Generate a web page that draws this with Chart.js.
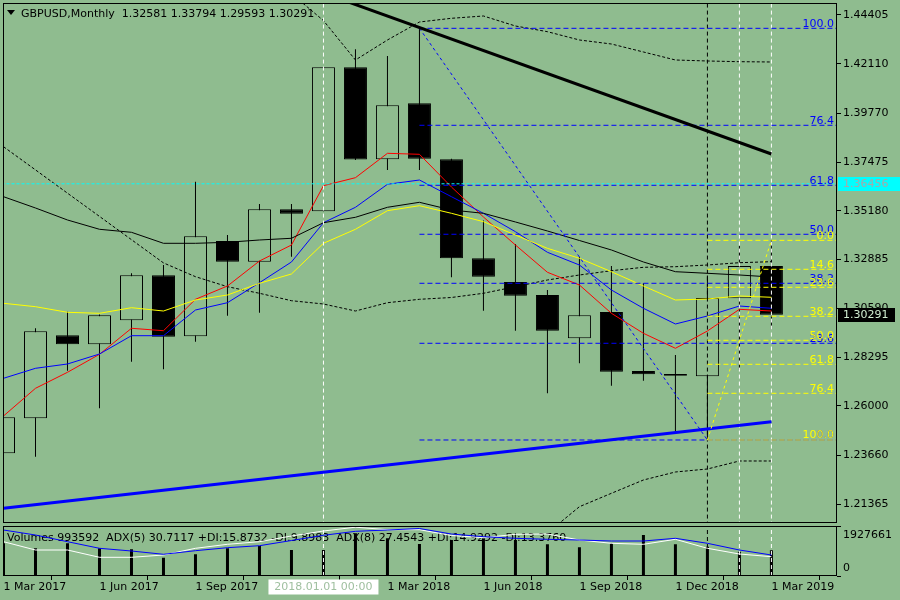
<!DOCTYPE html>
<html>
<head>
<meta charset="utf-8">
<title>GBPUSD, Monthly</title>
<script src="https://cdn.jsdelivr.net/npm/chart.js@4.4.0/dist/chart.umd.min.js"></script>
<style>
  html, body { margin: 0; padding: 0; background: #8fbc8f; }
  #wrap { position: relative; width: 900px; height: 600px; overflow: hidden; }
  canvas { position: absolute; left: 0; }
  #priceChart { top: 0; }
  #volChart { top: 524px; }
</style>
</head>
<body>
<div id="wrap">
  <canvas id="priceChart" width="900" height="524"></canvas>
  <canvas id="volChart" width="900" height="76"></canvas>
</div>
<script>
// Monthly bars, index 0 = Mar 2017 ... index 24 = Mar 2019
const opens  = [1.23765, 1.25414, 1.29322, 1.28898, 1.30028, 1.32147, 1.29275, 1.33762, 1.32788, 1.35255, 1.35161, 1.41942, 1.37610, 1.40247, 1.37610, 1.32953, 1.31832, 1.31220, 1.29181, 1.30419, 1.27641, 1.27500, 1.27391, 1.31064, 1.32581];
const highs  = [1.26120, 1.29652, 1.30433, 1.30300, 1.32241, 1.32632, 1.36555, 1.34045, 1.35505, 1.35505, 1.41942, 1.42790, 1.42474, 1.43778, 1.37640, 1.34730, 1.33621, 1.31455, 1.33023, 1.32585, 1.31771, 1.28394, 1.32140, 1.33541, 1.33794];
const lows   = [1.21190, 1.23605, 1.27655, 1.25884, 1.28079, 1.27721, 1.29020, 1.30245, 1.30386, 1.33023, 1.35161, 1.37577, 1.37106, 1.37106, 1.32053, 1.30480, 1.29538, 1.26591, 1.28004, 1.26949, 1.27184, 1.24783, 1.24392, 1.27688, 1.29593];
const closes = [1.25461, 1.29510, 1.28898, 1.30264, 1.32147, 1.29256, 1.33984, 1.32788, 1.35255, 1.35048, 1.41942, 1.37600, 1.40153, 1.37638, 1.32953, 1.32082, 1.31187, 1.29538, 1.30264, 1.27608, 1.27486, 1.27420, 1.31079, 1.32581, 1.30291];
const volumes = [1260700, 1067900, 1260700, 1067900, 1029400, 705500, 836600, 1067900, 1156600, 1002400, 1002400, 1646200, 1453400, 1233700, 1387900, 1453400, 1387900, 1222100, 1106500, 1260700, 1580700, 1222100, 1129600, 936800, 993592];

// moving averages and bands
const redMA    = [1.25522, 1.26826, 1.27580, 1.28427, 1.29652, 1.29538, 1.31017, 1.31644, 1.32821, 1.33574, 1.36367, 1.36744, 1.37892, 1.37845, 1.36306, 1.34893, 1.33574, 1.32289, 1.31691, 1.30358, 1.29416, 1.28710, 1.29524, 1.30546, 1.30466];
const blueMA   = [1.27297, 1.27768, 1.27971, 1.28441, 1.29303, 1.29303, 1.30513, 1.30857, 1.31799, 1.32774, 1.34624, 1.35350, 1.36433, 1.36635, 1.35849, 1.35067, 1.34201, 1.33231, 1.32632, 1.31455, 1.30594, 1.29854, 1.30231, 1.30701, 1.30594];
const yellowMA = [1.30829, 1.30669, 1.30405, 1.30358, 1.30622, 1.30466, 1.30984, 1.31220, 1.31771, 1.32209, 1.33654, 1.34314, 1.35190, 1.35425, 1.35067, 1.34672, 1.34045, 1.33418, 1.32948, 1.32317, 1.31644, 1.30984, 1.31032, 1.31173, 1.31112];
const blackMA  = [1.35849, 1.35317, 1.34752, 1.34314, 1.34172, 1.33654, 1.33654, 1.33701, 1.33810, 1.33890, 1.34624, 1.34879, 1.35350, 1.35585, 1.35222, 1.35067, 1.34658, 1.34234, 1.33786, 1.33339, 1.32774, 1.32317, 1.32241, 1.32162, 1.32067];
const envLine  = [1.38203, 1.37111, 1.36014, 1.34921, 1.33824, 1.32731, 1.32082, 1.31611, 1.31300, 1.30951, 1.30796, 1.30466, 1.30857, 1.31017, 1.31102, 1.31300, 1.31611, 1.31926, 1.32162, 1.32364, 1.32524, 1.32552, 1.32632, 1.32741, 1.32788];
const bandUpper = [null, null, null, null, null, null, null, null, null, 1.45413, 1.44141, 1.42286, 1.43228, 1.44075, 1.44250, 1.44358, 1.43887, 1.43619, 1.43228, 1.43039, 1.42663, 1.42286, 1.42239, 1.42206, 1.42192];
const bandLower = [null, null, null, null, null, null, null, null, null, null, null, null, null, null, null, null, 1.18741, 1.20012, 1.21251, 1.21882, 1.22508, 1.22885, 1.23026, 1.23403, 1.23403];

// ADX lines in the volume window
const adxWhite = [34.3, 26, 26, 18.7, 18.7, 21, 27.7, 31.7, 34.3, 40, 45, 48.8, 46.3, 46.3, 40.5, 38.3, 41.7, 42, 36, 32.7, 31.7, 36.7, 27.7, 22, 19.3];
const adxBlue  = [46, 41, 34.3, 27.7, 25, 21.7, 25.3, 28.3, 30.3, 35.5, 40.7, 44.7, 46, 47.5, 42, 39.3, 37.7, 36.7, 36, 35, 35, 37.7, 32.7, 26, 21];

// fibonacci objects
const blueFibStart = 13;
const blueFibLevels = ["100.0", "76.4", "61.8", "50.0", "38.2", "23.6", "0.0"];
const blueFibPrices = [1.43778, 1.39211, 1.36386, 1.34079, 1.31771, 1.28946, 1.24392];
const blueFibDiag = { idx: [13, 22], price: [1.43778, 1.24392] };
const yellowFibStart = 22;
const yellowFibLevels = ["0.0", "14.6", "23.6", "38.2", "50.0", "61.8", "76.4", "100.0"];
const yellowFibPrices = [1.33794, 1.32430, 1.31583, 1.30217, 1.29087, 1.27957, 1.26591, 1.24392];
const yellowFibDiag = { idx: [22, 24], price: [1.24392, 1.33794] };

// trend lines
const resistIdx = [10.5, 24], resistPrice = [1.45168, 1.37859];
const supportIdx = [0, 24], supportPrice = [1.21176, 1.25254];

// crosshair and vertical markers
const crossIdx = 10, crossPrice = 1.36456, crossTime = "2018.01.01 00:00";
const whiteMarks = [10, 23, 24];
const blackMarks = [22];

// axes
const priceTicks = [1.44405, 1.42110, 1.39770, 1.37475, 1.35180, 1.32885, 1.30590, 1.28295, 1.26000, 1.23660, 1.21365];
const timeTickIdx = [0, 3, 6, 9, 12, 15, 18, 21, 24];
const timeTickLabels = ["1 Mar 2017", "1 Jun 2017", "1 Sep 2017", "1 Dec 2017", "1 Mar 2018", "1 Jun 2018", "1 Sep 2018", "1 Dec 2018", "1 Mar 2019"];
const priceMin = 1.20483, priceMax = 1.44970;
const volMax = 1927661;
const xMin = 0, xMax = 26.05;

const header = "GBPUSD,Monthly  1.32581 1.33794 1.29593 1.30291";
const volLegend = "Volumes 993592  ADX(5) 30.7117 +DI:15.8732 -DI:9.8983  ADX(8) 27.4543 +DI:14.9292 -DI:13.3760";

const bg = "#8fbc8f";
const fontFamily = "'DejaVu Sans', sans-serif";

function pts(values) {
  return values.map((v, i) => ({ x: i, y: v }));
}

function lineSet(data, color, width, dash, order) {
  return {
    type: "line", data: data, borderColor: color, borderWidth: width,
    borderDash: dash || [], pointRadius: 0, tension: 0, fill: false,
    order: order || 3
  };
}

function hLine(price, fromIdx) {
  return [{ x: fromIdx, y: price }, { x: xMax + 1, y: price }];
}

function vLine(idx, lo, hi) {
  return [{ x: idx, y: lo }, { x: idx, y: hi }];
}

// ---------- main price window ----------
const priceSets = [];

priceSets.push({
  type: "bar",
  data: opens.map((o, i) => ({ x: i, y: [o, closes[i]] })),
  backgroundColor: ctx => closes[ctx.dataIndex] >= opens[ctx.dataIndex] ? bg : "#000",
  borderColor: "#000", borderWidth: 1, borderSkipped: false,
  barThickness: 23, grouped: false, inflateAmount: 0, order: 10
});
priceSets.push({
  type: "bar",
  data: lows.map((l, i) => ({ x: i, y: [l, highs[i]] })),
  backgroundColor: "#000", borderWidth: 0,
  barThickness: 1, grouped: false, inflateAmount: 0, order: 11
});

priceSets.push(lineSet(pts(bandUpper), "#000", 1, [3, 2], 6));
priceSets.push(lineSet(pts(bandLower), "#000", 1, [3, 2], 6));
priceSets.push(lineSet(pts(envLine), "#000", 1, [3, 2], 6));
priceSets.push(lineSet(pts(blackMA), "#000", 1, null, 5));
priceSets.push(lineSet(pts(yellowMA), "#ffff00", 1, null, 5));
priceSets.push(lineSet(pts(blueMA), "#0000ff", 1, null, 5));
priceSets.push(lineSet(pts(redMA), "#ff0000", 1, null, 5));

blueFibPrices.forEach(p => priceSets.push(lineSet(hLine(p, blueFibStart), "#0000ff", 1, [5, 3], 2)));
priceSets.push(lineSet(blueFibDiag.idx.map((x, k) => ({ x: x, y: blueFibDiag.price[k] })), "#0000ff", 1, [3, 3], 2));
yellowFibPrices.forEach(p => priceSets.push(lineSet(hLine(p, yellowFibStart), "#ffff00", 1, [5, 3], 1)));
priceSets.push(lineSet(yellowFibDiag.idx.map((x, k) => ({ x: x, y: yellowFibDiag.price[k] })), "#ffff00", 1, [3, 3], 1));

priceSets.push(lineSet(resistIdx.map((x, k) => ({ x: x, y: resistPrice[k] })), "#000", 3, null, 1));
priceSets.push(lineSet(supportIdx.map((x, k) => ({ x: x, y: supportPrice[k] })), "#0000ff", 3, null, 1));

priceSets.push(lineSet(hLine(crossPrice, -1), "#00ffff", 1, [3, 2], 0));
whiteMarks.forEach(i => priceSets.push(lineSet(vLine(i, priceMin - 1, priceMax + 1), "#ffffff", 1, [4, 3], 0)));
blackMarks.forEach(i => priceSets.push(lineSet(vLine(i, priceMin - 1, priceMax + 1), "#000", 1, [4, 3], 0)));

function drawFrame(ctx, a) {
  ctx.strokeStyle = "#000";
  ctx.lineWidth = 1;
  ctx.setLineDash([]);
  const l = Math.floor(a.left) + 0.5, r = Math.round(a.right) - 0.5;
  const t = Math.round(a.top) + 0.5, b = Math.round(a.bottom) - 0.5;
  ctx.strokeRect(l, t, r - l, b - t);
}

const priceOverlay = {
  id: "priceOverlay",
  afterDatasetsDraw(chart) {
    const { ctx, chartArea: a, scales } = chart;
    const y = scales.y;
    ctx.save();
    ctx.font = "11px " + fontFamily;
    ctx.textAlign = "right";
    ctx.textBaseline = "alphabetic";
    ctx.fillStyle = "#0000ff";
    blueFibPrices.forEach((p, k) => ctx.fillText(blueFibLevels[k], a.right - 3, y.getPixelForValue(p) - 1.5));
    ctx.fillStyle = "#ffff00";
    yellowFibPrices.forEach((p, k) => ctx.fillText(yellowFibLevels[k], a.right - 3, y.getPixelForValue(p) - 1.5));

    // header
    ctx.fillStyle = "#000";
    ctx.beginPath();
    ctx.moveTo(7, 10); ctx.lineTo(15, 10); ctx.lineTo(11, 15); ctx.closePath();
    ctx.fill();
    ctx.textAlign = "left";
    ctx.fillText(header, 21, 16.5);

    drawFrame(ctx, a);
    ctx.restore();
  },
  afterDraw(chart) {
    const { ctx, chartArea: a, scales } = chart;
    const y = scales.y;
    ctx.save();
    ctx.font = "11px " + fontFamily;
    ctx.textAlign = "left";
    ctx.textBaseline = "middle";

    let py = Math.round(y.getPixelForValue(crossPrice));
    ctx.fillStyle = "#00ffff";
    ctx.fillRect(a.right + 1, py - 7, 63, 14);
    ctx.fillStyle = "#a8a8a8";
    ctx.fillText(crossPrice.toFixed(5), a.right + 6, py);

    const last = closes[closes.length - 1];
    py = Math.round(y.getPixelForValue(last));
    ctx.fillStyle = "#000";
    ctx.fillRect(a.right + 1, py - 7, 57, 14);
    ctx.fillStyle = "#d0ecd0";
    ctx.fillText(last.toFixed(5), a.right + 6, py);
    ctx.restore();
  }
};

new Chart(document.getElementById("priceChart"), {
  type: "bar",
  data: { datasets: priceSets },
  options: {
    responsive: false,
    animation: false,
    devicePixelRatio: 1,
    layout: { padding: { left: 3.5, top: 3, right: 0, bottom: 1 } },
    plugins: { legend: { display: false }, tooltip: { enabled: false } },
    scales: {
      x: { type: "linear", min: xMin, max: xMax, display: false, offset: false },
      y: {
        type: "linear", position: "right", min: priceMin, max: priceMax,
        afterBuildTicks: s => { s.ticks = priceTicks.map(v => ({ value: v })); },
        afterFit: s => { s.width = 63; s.paddingTop = 0; s.paddingBottom = 0; },
        ticks: { callback: v => Number(v).toFixed(5), color: "#000", font: { family: fontFamily, size: 11 }, padding: 2, autoSkip: false },
        grid: { drawOnChartArea: false, drawTicks: true, tickLength: 4, color: "#000" },
        border: { display: false }
      }
    }
  },
  plugins: [priceOverlay]
});

// ---------- volume / ADX window ----------
const volSets = [];
volSets.push({
  type: "bar", yAxisID: "vol",
  data: pts(volumes),
  backgroundColor: "#000", borderWidth: 0,
  barThickness: 3, grouped: false, inflateAmount: 0, order: 10
});
volSets.push(Object.assign(lineSet(pts(adxWhite), "#ffffff", 1, null, 2), { yAxisID: "adx" }));
volSets.push(Object.assign(lineSet(pts(adxBlue), "#0000ff", 1, null, 1), { yAxisID: "adx" }));
whiteMarks.forEach(i => volSets.push(Object.assign(lineSet(vLine(i, -1, volMax * 2), "#ffffff", 1, [4, 3], 0), { yAxisID: "vol" })));
blackMarks.forEach(i => volSets.push(Object.assign(lineSet(vLine(i, -1, volMax * 2), "#000", 1, [4, 3], 0), { yAxisID: "vol" })));

const volOverlay = {
  id: "volOverlay",
  beforeDatasetsDraw(chart) {
    const { ctx } = chart;
    ctx.save();
    ctx.font = "11px " + fontFamily;
    ctx.fillStyle = "#000";
    ctx.textAlign = "left";
    ctx.textBaseline = "alphabetic";
    ctx.fillText(volLegend, 7, 17);
    ctx.restore();
  },
  afterDraw(chart) {
    const { ctx, chartArea: a, scales } = chart;
    ctx.save();
    drawFrame(ctx, a);
    ctx.font = "11px " + fontFamily;
    ctx.textBaseline = "middle";
    ctx.textAlign = "left";
    ctx.fillStyle = "#000";
    ctx.fillText(String(volMax), a.right + 6, a.top + 9);
    ctx.fillText("0", a.right + 6, a.bottom - 8);

    const cx = scales.x.getPixelForValue(crossIdx);
    ctx.fillStyle = "#ffffff";
    ctx.fillRect(cx - 55, a.bottom + 3.5, 110, 15);
    ctx.fillStyle = "#a0c0a0";
    ctx.textAlign = "center";
    ctx.fillText(crossTime, cx, a.bottom + 11);
    ctx.restore();
  }
};

new Chart(document.getElementById("volChart"), {
  type: "bar",
  data: { datasets: volSets },
  options: {
    responsive: false,
    animation: false,
    devicePixelRatio: 1,
    layout: { padding: { left: 3.5, top: 2, right: 0, bottom: 0 } },
    plugins: { legend: { display: false }, tooltip: { enabled: false } },
    scales: {
      x: {
        type: "linear", min: xMin, max: xMax, offset: false, position: "bottom",
        afterBuildTicks: s => { s.ticks = timeTickIdx.map(v => ({ value: v })); },
        afterFit: s => { s.height = 24; s.paddingLeft = 0; s.paddingRight = 0; },
        ticks: {
          callback: v => timeTickLabels[timeTickIdx.indexOf(v)] || "",
          align: "start", autoSkip: false, maxRotation: 0, minRotation: 0,
          color: "#000", font: { family: fontFamily, size: 11 }, padding: 1
        },
        grid: { drawOnChartArea: false, drawTicks: true, tickLength: 4, color: "#000" },
        border: { display: false }
      },
      vol: {
        type: "linear", position: "right", min: 0, max: volMax,
        afterBuildTicks: s => { s.ticks = [{ value: 0 }, { value: volMax }]; },
        afterFit: s => { s.width = 63; s.paddingTop = 0; s.paddingBottom = 0; },
        ticks: { display: false },
        grid: { drawOnChartArea: false, drawTicks: true, tickLength: 4, color: "#000" },
        border: { display: false }
      },
      adx: { type: "linear", display: false, min: 0, max: 50 }
    }
  },
  plugins: [volOverlay]
});
</script>
</body>
</html>
